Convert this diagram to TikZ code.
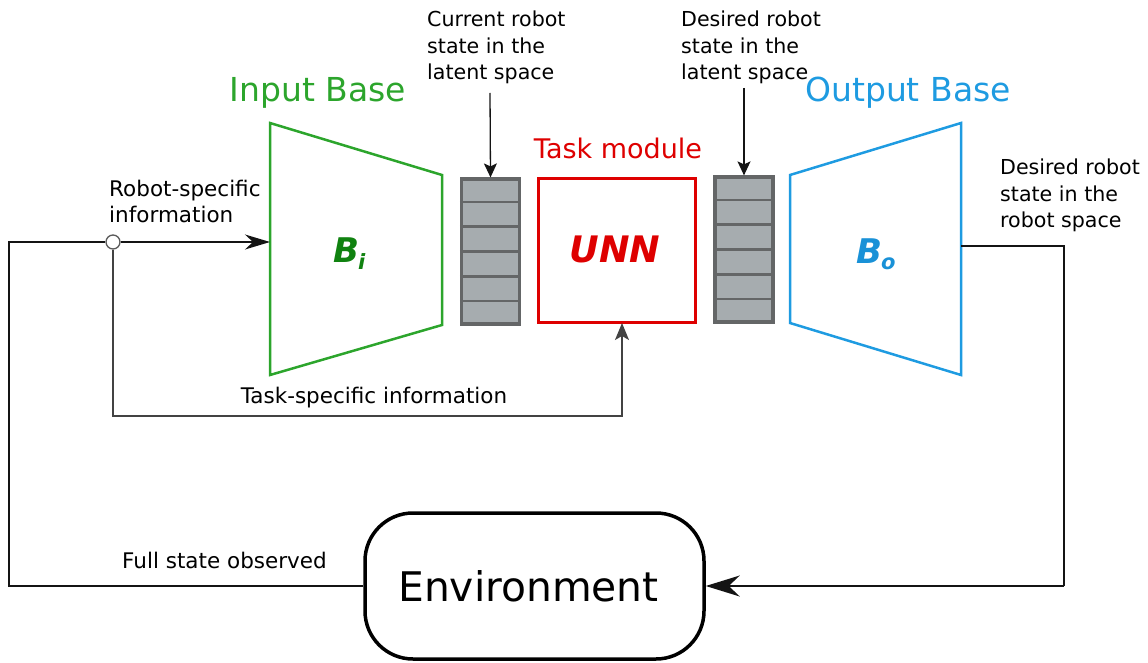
\documentclass[tikz,border=0pt]{standalone}
\usepackage{fontspec}
\setmainfont{DejaVu Sans}
\usetikzlibrary{arrows.meta,calc}
\definecolor{basegreen}{RGB}{44,165,44}
\definecolor{bigreen}{RGB}{16,130,16}
\definecolor{baseblue}{RGB}{30,155,225}
\definecolor{boblue}{RGB}{25,145,215}
\definecolor{taskred}{RGB}{222,0,0}
\definecolor{cellfill}{RGB}{166,172,175}
\definecolor{cellline}{RGB}{100,102,103}
\definecolor{wirecol}{RGB}{20,20,20}
\begin{document}
\begin{tikzpicture}[x=1pt,y=-1pt,
  note/.style={font=\fontsize{20.6}{26.3}\selectfont, align=left, inner sep=0pt, anchor=north west},
  notebig/.style={font=\fontsize{21.5}{26}\selectfont, align=left, inner sep=0pt},
  title/.style={font=\fontsize{33}{36}\selectfont, inner sep=0pt, anchor=base},
  symbol/.style={font=\fontsize{34}{36}\selectfont\bfseries\itshape, inner sep=0pt, anchor=base west},
  wire/.style={draw=wirecol, line width=1.6pt},
  basepoly/.style={line width=2.5pt, line join=miter},
  stackbox/.style={draw=cellline, fill=cellfill, line width=3.2pt,
    minimum width=58pt, minimum height=145pt, inner sep=0pt},
  divider/.style={draw=cellline, line width=2.8pt},
  smalltip/.style={-{Stealth[length=14pt,width=13pt,inset=3pt]}},
  midtip/.style={-{Stealth[length=17pt,width=14pt,inset=4pt]}},
  longtip/.style={-{Stealth[length=25pt,width=15pt,inset=8pt]}},
  bigtip/.style={-{Stealth[length=34pt,width=21pt,inset=11pt]}}
]
\useasboundingbox (0,0) rectangle (1148,663);

% input base (encoder)
\coordinate (bi1) at (270,123);
\coordinate (bi2) at (442,175);
\coordinate (bi3) at (442,325);
\coordinate (bi4) at (270,375);
\draw[basepoly, draw=basegreen] (bi1) -- (bi2) -- (bi3) -- (bi4) -- cycle;
\node[title, text=basegreen] (inbase) at (318,102) {Input Base};
\node[symbol, text=bigreen] (bisym) at (333,262) {B\kern-1pt\raisebox{-7pt}{\fontsize{21}{21}\selectfont i}};

% output base (decoder)
\coordinate (bo1) at (790,175);
\coordinate (bo2) at (961,123);
\coordinate (bo3) at (961,375);
\coordinate (bo4) at (790,323);
\draw[basepoly, draw=baseblue] (bo1) -- (bo2) -- (bo3) -- (bo4) -- cycle;
\node[title, text=baseblue] (outbase) at (908,102) {Output Base};
\node[symbol, text=boblue] (bosym) at (856,263) {B\kern-1pt\raisebox{-6pt}{\fontsize{21}{21}\selectfont o}};

% latent state vectors
\node[stackbox] (s1) at (490.5,251.5) {};
\node[stackbox] (s2) at (744,249.5) {};
\foreach \s in {s1,s2}{
  \foreach \k in {1,...,5}{
    \draw[divider] ($(\s.north west)!\k/6!(\s.south west)$) -- ($(\s.north east)!\k/6!(\s.south east)$);
  }
}

% task module
\node[draw=taskred, line width=3pt, minimum width=157pt, minimum height=144pt, inner sep=0pt] (unn) at (617,250.5) {};
\node[font=\fontsize{36.5}{38}\selectfont\bfseries\itshape, text=taskred, inner sep=0pt, anchor=base] (unnlabel) at (615,262) {UNN};
\node[font=\fontsize{27}{30}\selectfont, text=taskred, inner sep=0pt, anchor=base] (tasklabel) at (618,159) {Task module};

% environment
\node[draw=black, line width=3.5pt, rounded corners=48pt, minimum width=339pt, minimum height=146pt,
      inner sep=0pt, font=\fontsize{40.8}{44}\selectfont] (env) at (534.5,586) {\kern-12pt Environment};

% annotations
\node[note] (curlbl) at (427,11) {Current robot\\state in the\\latent space};
\node[note] (deslbl) at (681,11) {Desired robot\\state in the\\latent space};
\node[note] (roblbl) at (1000,159) {Desired robot\\state in the\\robot space};
\node[notebig, anchor=north west] (rslbl) at (109,180) {Robot-specific\\information};
\node[notebig, anchor=base] (tslbl) at (374,403) {Task-specific information};
\node[notebig, anchor=base west] (fslbl) at (122,568) {Full state observed};

% connectors
\coordinate (ta1) at (490,93);
\coordinate (ta2) at (744,88);
\draw[wire, line width=1.3pt, smalltip] (ta1) -- (s1.north);
\draw[wire, line width=1.3pt, smalltip] (ta2) -- (s2.north);

\node[circle, draw=wirecol!70, fill=white, line width=1.3pt, minimum size=14pt, inner sep=0pt] (jn) at (113,242) {};
\coordinate (lc) at (9,242);
\coordinate (biin) at (270,242);
\coordinate (tk) at (622,416);
\coordinate (unnin) at (622,323);
\coordinate (boout) at (961,246);
\coordinate (rc) at (1064,246);

\draw[wire] (env.west) -| (lc) -- (jn.west);
\draw[wire, longtip] (jn.east) -- (biin);
\draw[wire, draw=wirecol!80, line width=1.4pt, midtip] (jn.south) |- (tk) -- (unnin);
\draw[wire, line width=1.4pt] (boout) -- (rc) -- (rc |- env.east);
\draw[wire, bigtip] (rc |- env.east) -- (env.east);
\end{tikzpicture}
\end{document}
